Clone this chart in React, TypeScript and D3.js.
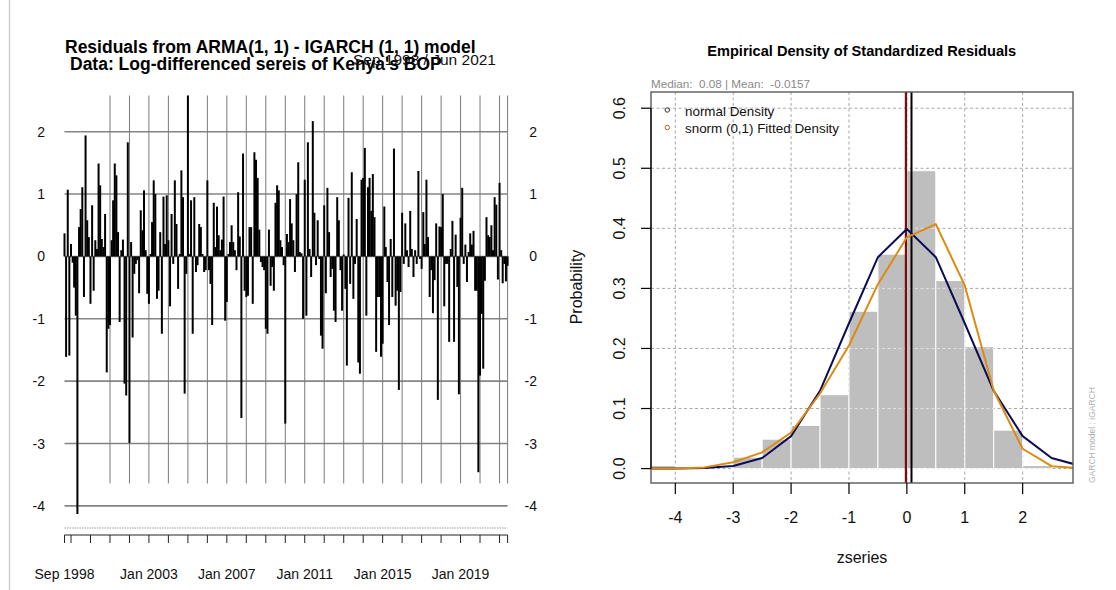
import React from "react";
import * as d3 from "d3";

// ---------- Residual series (monthly, Sep 1998 .. Jun 2021) ----------
const SERIES_START = new Date(Date.UTC(1998, 8, 1));

const residuals: number[] = [
  0.37, -1.61, 1.07, -1.59, 0.2, -0.1, -0.5, -0.95, -4.13, 0.47,
  0.76, 1.11, -0.65, 1.94, 0.58, 0.31, -0.76, 0.82, -0.55, 0.26,
  0.12, 1.49, 1.14, 0.28, 0.15, 0.68, -1.86, -1.16, -1.1, 0.26,
  0.9, 1.49, 1.3, 0.39, -1.05, 0.1, 0.27, -2.04, -2.23, 1.83,
  -2.99, 0.23, -1.3, -0.28, -0.12, -0.06, -0.59, 0.74, 0.42, 1.06,
  0.1, -0.6, -0.76, 0.04, 0.55, 1.22, 1.0, -0.68, -0.55, 0.39,
  -1.24, 0.96, 0.2, 0.98, 0.26, -0.8, 0.68, -0.12, 1.22, 0.52,
  -0.52, 0.04, 1.38, 0.95, -2.2, -0.28, 2.58, 0.04, 0.9, -1.24,
  0.95, -0.25, -0.14, 0.52, 0.47, 0.04, -0.25, -0.22, 1.22, -0.22,
  -0.44, -1.1, 0.86, 0.15, 0.8, 0.34, 0.1, 0.27, 0.96, -1.03,
  -0.73, 0.04, 0.23, 0.5, 0.23, 0.1, -0.22, 1.03, 0.32, -2.59,
  1.65, -0.55, -0.65, -0.63, 0.47, 0.47, -0.76, 1.67, 1.55, 1.26,
  0.43, -0.09, -0.17, -0.22, -1.16, -1.24, 0.43, -0.47, -0.17, -0.55,
  0.86, 1.14, 1.06, 0.26, 0.15, -0.14,
  -2.68, 0.36, 0.23, 0.92, 0.53, 0.26, -0.25, 1.0, 1.51, 0.07,
  0.05, -1.0, 1.23, -0.95, 1.83, 0.12, -0.33, 2.17, 0.7, -0.14,
  0.58, -0.04, -1.27, -1.48, 0.82, -0.59, 1.1, 0.39, -0.33, -0.2,
  -0.87, -1.05, 0.95, 0.58, -0.22, -0.87, 0.03, -0.52, -1.75, 0.94,
  -0.44, 1.35, -0.68, -0.12, 0.6, -1.7, -1.88, 1.23, 1.26, 1.74,
  -0.95, 1.11, 1.26, 0.73, 1.32, 0.63, -1.53, -0.65, -0.65, -1.61,
  -1.4, 0.8, 0.15, -0.41, -1.1, 0.28, -0.65, 1.73, -0.79, -0.55,
  -2.14, -0.57, 0.7, -0.12, 0.53, 0.1, -0.17, 0.73, 0.12, -0.33,
  0.1, -0.12, 1.37, -0.04, -0.2, 0.71, 0.2, 1.23, 0.31, -0.65,
  -0.22, -0.91, -0.38, 0.53, -2.3, 0.48, 0.47, 1.0, -0.8, -0.12,
  -0.12, -1.37, 0.12, 0.57, -1.37, 0.35, -0.49, -2.21, 0.62, 1.1,
  -0.12, 0.19, -0.41, 0.07, 0.37, 0.19, 0.41, -0.55, -0.55, -3.46,
  -1.91, -0.92, -1.8, -0.39, 0.63, 0.34, 0.31, 0.5, 0.1, 0.95,
  0.83, -0.37, 1.18, 0.1, -0.43, -0.12, -0.4, -0.15,
];

const residualTicks = [-4, -3, -2, -1, 0, 1, 2];
const residualDateLabels = ["Sep 1998", "Jan 2003", "Jan 2007", "Jan 2011", "Jan 2015", "Jan 2019"];
const firstGridYear = 2001;
const gridSpan = [-3.64, 2.58];

// ---------- Standardized residual density ----------
const histBreaks = [-4.5, -4, -3.5, -3, -2.5, -2, -1.5, -1, -0.5, 0, 0.5, 1, 1.5, 2, 2.5, 3];
const histDensity = [0.005, 0, 0, 0.019, 0.049, 0.072, 0.123, 0.262, 0.357, 0.496, 0.313, 0.203, 0.064, 0.005, 0];

const curveX = [-4.5, -4, -3.5, -3, -2.5, -2, -1.5, -1, -0.5, 0, 0.5, 1, 1.5, 2, 2.5, 3];
const normalDensity = [0.0, 0.0001, 0.0009, 0.0044, 0.0175, 0.054, 0.1295, 0.242, 0.352, 0.399, 0.352, 0.242, 0.1295, 0.054, 0.0175, 0.0044];
const snormDensity = [0.0, 0.0002, 0.002, 0.0105, 0.027, 0.06, 0.125, 0.205, 0.307, 0.385, 0.407, 0.305, 0.13, 0.033, 0.004, 0.0003];

const densityXTicks = [-4, -3, -2, -1, 0, 1, 2];
const densityYTicks = [0, 0.1, 0.2, 0.3, 0.4, 0.5, 0.6];
const medianValue = 0.08;
const meanValue = -0.0157;

const FONT = "'Liberation Sans', Arial, Helvetica, sans-serif";
const NAVY = "#0c0c55";
const ORANGE = "#dc8a12";

export default function App() {
  // ----- left panel scales -----
  const months = residuals.map((_, i) => d3.utcMonth.offset(SERIES_START, i));
  const first = months[0];
  const last = months[months.length - 1];
  const x = d3.scaleUtc().domain([first, last]).range([64.5, 507.6]);
  const y = d3.scaleLinear().domain([-4, 2]).range([505.9, 131.7]);
  const janTicks = d3.utcYear.range(d3.utcYear.ceil(first), last);
  const gridYears = janTicks.filter((d) => d.getUTCFullYear() >= firstGridYear);
  const axisTicks = [first, ...janTicks, last];
  const fmt = d3.utcFormat("%b %Y");
  const labelDates = axisTicks.filter((d) => residualDateLabels.includes(fmt(d)));
  const [x0, x1] = x.range();

  // ----- right panel scales -----
  const hx = d3.scaleLinear().domain([-4.42, 2.87]).range([651, 1073]);
  const hy = d3.scaleLinear().domain([-0.024, 0.627]).range([483, 92]);
  const bins = histDensity.map((d, i) => ({ x0: histBreaks[i], x1: histBreaks[i + 1], d }));
  const line = d3
    .line<[number, number]>()
    .x((p) => hx(p[0]))
    .y((p) => hy(p[1]));
  const normalPath = line(curveX.map((v, i) => [v, normalDensity[i]] as [number, number])) || "";
  const snormPath = line(curveX.map((v, i) => [v, snormDensity[i]] as [number, number])) || "";
  const [bx0, bx1] = hx.range();
  const [by1, by0] = hy.range();

  const gridLines = (stroke: string) => (
    <g stroke={stroke} strokeWidth={1} strokeDasharray="3,2.5">
      {densityXTicks.map((t) => (
        <line key={"gx" + t} x1={hx(t)} x2={hx(t)} y1={by0} y2={by1} />
      ))}
      {densityYTicks.map((t) => (
        <line key={"gy" + t} x1={bx0} x2={bx1} y1={hy(t)} y2={hy(t)} />
      ))}
    </g>
  );

  return (
    <svg
      width={1116}
      height={590}
      style={{ position: "absolute", left: 0, top: 0, background: "#fff" }}
      fontFamily={FONT}
    >
      <defs>
        <clipPath id="densityBox">
          <rect x={bx0} y={by0} width={bx1 - bx0} height={by1 - by0} />
        </clipPath>
        <clipPath id="barArea">
          {bins.map((b, i) => (
            <rect key={i} x={hx(b.x0)} y={hy(b.d)} width={hx(b.x1) - hx(b.x0)} height={hy(0) - hy(b.d)} />
          ))}
        </clipPath>
      </defs>
      <rect x={0} y={0} width={1116} height={590} fill="#fff" />
      <line x1={9.5} x2={9.5} y1={0} y2={590} stroke="#cfcfcf" strokeWidth={1.5} />

      {/* ================= Residual series ================= */}
      <g>
        {residualTicks.map((t) => (
          <line key={"h" + t} x1={x0} x2={x1} y1={y(t)} y2={y(t)} stroke="#848484" strokeWidth={1.6} />
        ))}
        {gridYears.map((d) => (
          <line key={"v" + d.getTime()} x1={x(d)} x2={x(d)} y1={y(gridSpan[1])} y2={y(gridSpan[0])} stroke="#7a7a7a" strokeWidth={1} />
        ))}
        <line x1={x(last)} x2={x(last)} y1={y(gridSpan[1])} y2={y(gridSpan[0])} stroke="#7a7a7a" strokeWidth={1} />
        {residuals.map((v, i) => (
          <line key={i} x1={x(months[i])} x2={x(months[i])} y1={y(0)} y2={y(v)} stroke="#000" strokeWidth={2} />
        ))}
        {residualTicks.map((t) => (
          <g key={"l" + t} fontSize={14} fill="#111">
            <text x={45} y={y(t)} dy="0.36em" textAnchor="end">{t}</text>
            <text x={537} y={y(t)} dy="0.36em" textAnchor="end">{t}</text>
          </g>
        ))}
        <line x1={x0} x2={x1} y1={528} y2={528} stroke="#cdcdcd" strokeWidth={2} strokeDasharray="1.5,1" />
        <line x1={x0} x2={x1} y1={535} y2={535} stroke="#222" strokeWidth={1} />
        {axisTicks.map((d) => (
          <line key={"t" + d.getTime()} x1={x(d)} x2={x(d)} y1={535} y2={543} stroke="#222" strokeWidth={1} />
        ))}
        {labelDates.map((d) => (
          <text key={"xl" + d.getTime()} x={x(d)} y={579} fontSize={14} textAnchor="middle" fill="#111">
            {fmt(d)}
          </text>
        ))}
        <text x={65} y={53} fontSize={17.5} fontWeight="bold" fill="#000">
          Residuals from ARMA(1, 1) - IGARCH (1, 1) model
        </text>
        <text x={70} y={69.5} fontSize={17.5} fontWeight="bold" fill="#000">
          Data: Log-differenced sereis of Kenya's BOP
        </text>
        <text x={496} y={65} fontSize={15.5} textAnchor="end" fill="#111">
          Sep 1998 / Jun 2021
        </text>
      </g>

      {/* ================= Density of standardized residuals ================= */}
      <g>
        <text x={861.7} y={56} fontSize={14.6} fontWeight="bold" textAnchor="middle" fill="#000">
          Empirical Density of Standardized Residuals
        </text>
        <text x={651} y={88.3} fontSize={11.7} fill="#8a8a8a" style={{ whiteSpace: "pre" }}>
          {"Median:  0.08 | Mean:  -0.0157"}
        </text>

        <g clipPath="url(#densityBox)">
          {gridLines("#a8a8a8")}
          {bins.map((b, i) =>
            b.d > 0 ? (
              <rect
                key={i}
                x={hx(b.x0)}
                y={hy(b.d)}
                width={hx(b.x1) - hx(b.x0)}
                height={hy(0) - hy(b.d)}
                fill="#bebebe"
                stroke="#fff"
                strokeWidth={1}
              />
            ) : null
          )}
          <g clipPath="url(#barArea)">{gridLines("#e2e2e2")}</g>
          <line x1={hx(meanValue)} x2={hx(meanValue)} y1={by0} y2={by1} stroke="#7d0b0b" strokeWidth={2.3} />
          <line x1={hx(medianValue)} x2={hx(medianValue)} y1={by0} y2={by1} stroke="#000" strokeWidth={2} />
          <path d={normalPath} fill="none" stroke={NAVY} strokeWidth={2} strokeLinejoin="round" />
          <path d={snormPath} fill="none" stroke={ORANGE} strokeWidth={2} strokeLinejoin="round" />
        </g>

        <rect x={bx0} y={by0} width={bx1 - bx0} height={by1 - by0} fill="none" stroke="#5a5a5a" strokeWidth={1.4} />
        <line x1={bx0} x2={bx0} y1={hy(0)} y2={hy(0.6)} stroke="#000" strokeWidth={1.2} />

        {densityYTicks.map((t) => (
          <g key={"yt" + t}>
            <line x1={bx0 - 10} x2={bx0} y1={hy(t)} y2={hy(t)} stroke="#000" strokeWidth={1.2} />
            <text
              transform={`translate(625, ${hy(t)}) rotate(-90)`}
              fontSize={16}
              textAnchor="middle"
              fill="#111"
            >
              {t.toFixed(1)}
            </text>
          </g>
        ))}
        {densityXTicks.map((t) => (
          <g key={"xt" + t}>
            <line x1={hx(t)} x2={hx(t)} y1={by1} y2={by1 + 11} stroke="#000" strokeWidth={1.2} />
            <text x={hx(t)} y={523} fontSize={16} textAnchor="middle" fill="#111">
              {t}
            </text>
          </g>
        ))}
        <text x={862} y={563} fontSize={16} textAnchor="middle" fill="#111">
          zseries
        </text>
        <text transform="translate(582, 287) rotate(-90)" fontSize={16} textAnchor="middle" fill="#111">
          Probability
        </text>

        {/* legend */}
        <circle cx={667.3} cy={110} r={2.2} fill="none" stroke="#333" strokeWidth={1} />
        <text x={685} y={116} fontSize={13.4} fill="#111">normal Density</text>
        <circle cx={667.3} cy={127.5} r={2.2} fill="none" stroke="#c0622a" strokeWidth={1} />
        <text x={685} y={133} fontSize={13.4} fill="#111">snorm (0,1) Fitted Density</text>

        <text transform="translate(1095, 483) rotate(-90)" fontSize={8.5} fill="#b0b0b0">
          GARCH model : iGARCH
        </text>
      </g>
    </svg>
  );
}
